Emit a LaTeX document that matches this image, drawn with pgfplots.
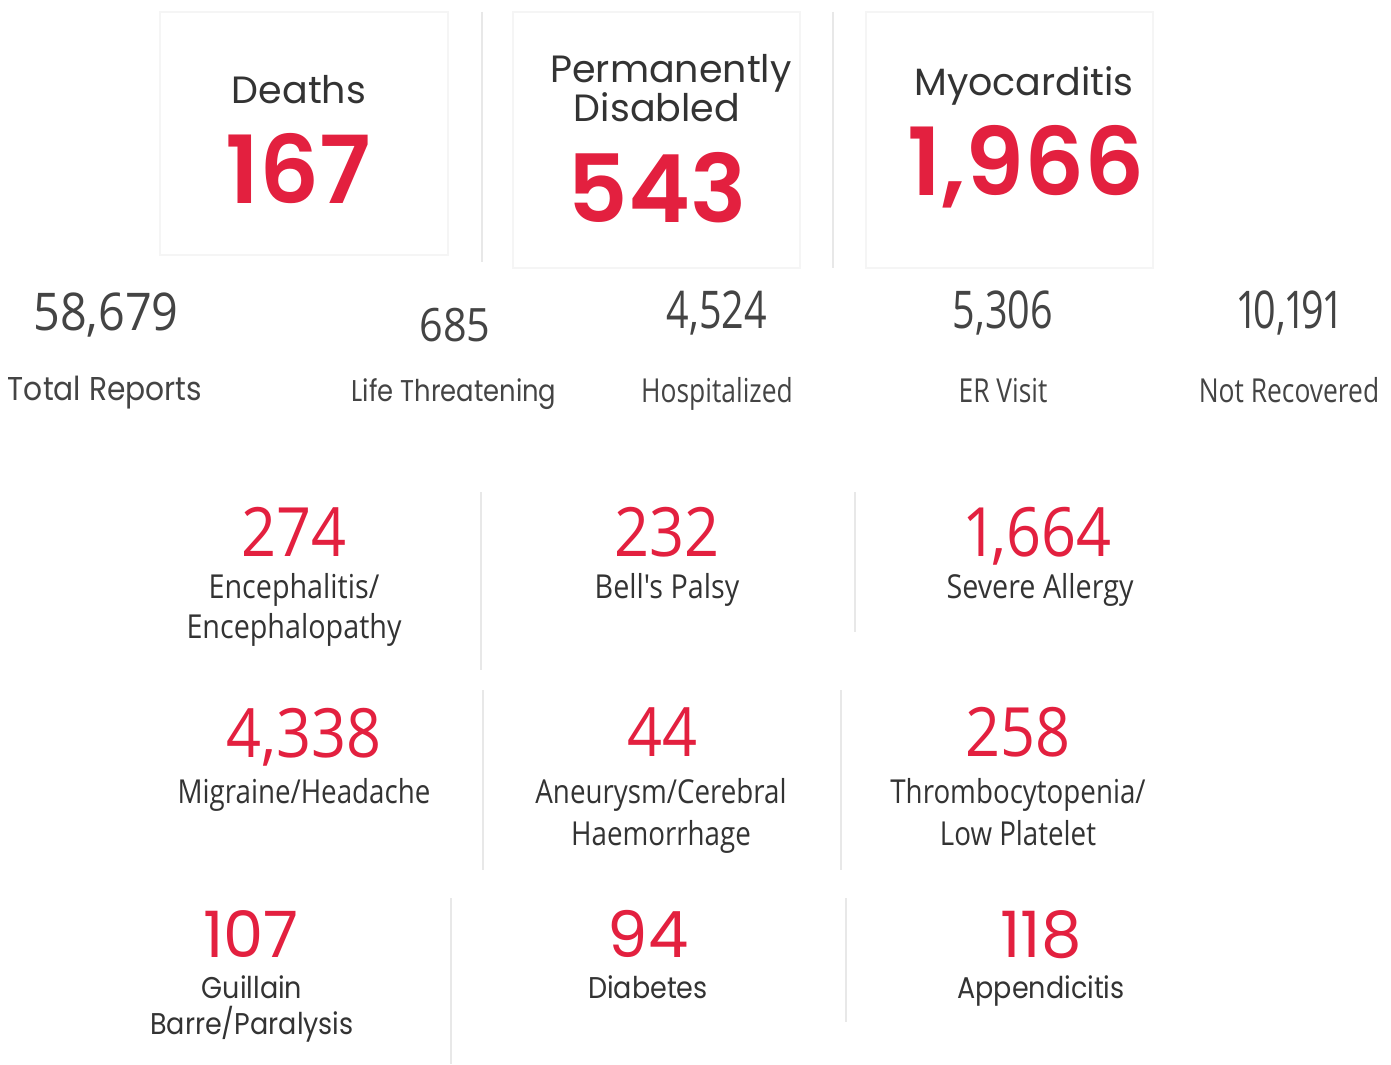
\documentclass[border=0pt]{standalone}
\usepackage{pgfplots}
\pgfplotsset{compat=1.18}
\usepackage{fontspec}
\setmainfont{Poppins}
\newfontfamily\mont{Poppins}
\newfontfamily\montsb{Poppins SemiBold}
\newfontfamily\montn[FakeStretch=0.9]{Poppins}
\newfontfamily\montc[FakeStretch=0.86]{Poppins}
\newfontfamily\cond[FakeStretch=0.9, Numbers=Proportional]{Open Sans}
\newfontfamily\condnum[FakeStretch=0.76, Numbers=Proportional]{Open Sans}
\newfontfamily\condl[FakeStretch=0.87]{Open Sans}
\newfontfamily\condm[FakeStretch=0.84]{Open Sans}
\newfontfamily\condn[FakeStretch=0.8]{Open Sans}
\definecolor{vred}{HTML}{E3203F}
\definecolor{dtext}{HTML}{333333}
\definecolor{ntext}{HTML}{444444}
\definecolor{sepc}{HTML}{E8E8E8}
\begin{document}
\begin{tikzpicture}
\begin{axis}[
  scale only axis, width=695.5pt, height=532pt,
  xmin=0, xmax=1391, ymin=0, ymax=1064, y dir=reverse,
  hide axis, clip=false,
  point meta=explicit symbolic,
]
% background
\fill[white] (axis cs:0,0) rectangle (axis cs:1391,1064);
% cards (soft shadows)
\draw[black!4, line width=1.2pt, fill=white] (axis cs:160,12) rectangle (axis cs:448,255);
\draw[black!4, line width=1.2pt, fill=white] (axis cs:513,12) rectangle (axis cs:800,268);
\draw[black!4, line width=1.2pt, fill=white] (axis cs:866,12) rectangle (axis cs:1153,268);
% separators
\addplot[sepc, line width=0.8pt] coordinates {(482,12) (482,262)};
\addplot[sepc, line width=0.8pt] coordinates {(833,12) (833,268)};
\addplot[sepc, line width=0.8pt] coordinates {(481,492) (481,670)};
\addplot[sepc, line width=0.8pt] coordinates {(855,492) (855,632)};
\addplot[sepc, line width=0.8pt] coordinates {(483,690) (483,870)};
\addplot[sepc, line width=0.8pt] coordinates {(841,690) (841,870)};
\addplot[sepc, line width=0.8pt] coordinates {(451,898) (451,1064)};
\addplot[sepc, line width=0.8pt] coordinates {(846,898) (846,1022)};

% card titles
\addplot[draw=none, mark=none, nodes near coords,
  nodes near coords style={anchor=base, text=dtext, inner sep=0pt,
  font=\mont\fontsize{19}{22}\selectfont}]
  coordinates {(299,104) [Deaths] (671,83) [Permanently] (657,121) [Disabled] (1024,96) [Myocarditis]};
% big red numbers
\addplot[draw=none, mark=none, nodes near coords,
  nodes near coords style={anchor=base, text=vred, inner sep=0pt,
  font=\montsb\fontsize{47}{50}\selectfont}]
  coordinates {(298,203) [167] (657,222) [543] (1026,195) [1,966]};
% row 2 numbers
\addplot[draw=none, mark=none, nodes near coords,
  nodes near coords style={anchor=base, text=ntext, inner sep=0pt,
  font=\cond\fontsize{26}{30}\selectfont}]
  coordinates {(106,330) [58,679]};
\addplot[draw=none, mark=none, nodes near coords,
  nodes near coords style={anchor=base, text=ntext, inner sep=0pt,
  font=\condnum\fontsize{26}{30}\selectfont}]
  coordinates {(717,328) [4,524] (1003,328) [5,306] (1289,328) [10,191]};
\addplot[draw=none, mark=none, nodes near coords,
  nodes near coords style={anchor=base, text=ntext, inner sep=0pt,
  font=\cond\fontsize{23}{26}\selectfont}]
  coordinates {(455,341) [685]};
% row 2 labels
\addplot[draw=none, mark=none, nodes near coords,
  nodes near coords style={anchor=base, text=ntext, inner sep=0pt,
  font=\montn\fontsize{16.5}{20}\selectfont}]
  coordinates {(105,400) [Total Reports]};
\addplot[draw=none, mark=none, nodes near coords,
  nodes near coords style={anchor=base, text=ntext, inner sep=0pt,
  font=\montc\fontsize{15}{18}\selectfont}]
  coordinates {(454,401) [Life Threatening]};
\addplot[draw=none, mark=none, nodes near coords,
  nodes near coords style={anchor=base, text=ntext, inner sep=0pt,
  font=\condn\fontsize{16.5}{20}\selectfont}]
  coordinates {(717,402) [Hospitalized] (1003,402) [ER Visit] (1289,402) [Not Recovered]};
% condensed red numbers
\addplot[draw=none, mark=none, nodes near coords,
  nodes near coords style={anchor=base, text=vred, inner sep=0pt,
  font=\cond\fontsize{34}{38}\selectfont}]
  coordinates {(294,556) [274] (667,556) [232] (1039,556) [1,664]
               (304,757) [4,338] (662,756) [44] (1018,756) [258]};
% condensed labels, row 3
\addplot[draw=none, mark=none, nodes near coords,
  nodes near coords style={anchor=base, text=dtext, inner sep=0pt,
  font=\condl\fontsize{16.5}{20}\selectfont}]
  coordinates {(294,598) [Encephalitis/] (294,638) [Encephalopathy] (667,598) [Bell's Palsy] (1040,598) [Severe Allergy]};
% condensed labels, row 4
\addplot[draw=none, mark=none, nodes near coords,
  nodes near coords style={anchor=base, text=dtext, inner sep=0pt,
  font=\condm\fontsize{16.5}{20}\selectfont}]
  coordinates {(304,803) [Migraine/Headache] (661,803) [Aneurysm/Cerebral] (661,845) [Haemorrhage]
               (1018,803) [Thrombocytopenia/] (1018,845) [Low Platelet]};
% regular red numbers
\addplot[draw=none, mark=none, nodes near coords,
  nodes near coords style={anchor=base, text=vred, inner sep=0pt,
  font=\mont\fontsize{32}{35}\selectfont}]
  coordinates {(251,957) [107] (648,957) [94] (1041,957) [118]};
% bottom labels
\addplot[draw=none, mark=none, nodes near coords,
  nodes near coords style={anchor=base, text=dtext, inner sep=0pt,
  font=\montn\fontsize{15}{18}\selectfont}]
  coordinates {(252,998) [Guillain] (252,1034) [Barre/Paralysis] (648,998) [Diabetes] (1041,998) [Appendicitis]};
\end{axis}
\end{tikzpicture}
\end{document}
